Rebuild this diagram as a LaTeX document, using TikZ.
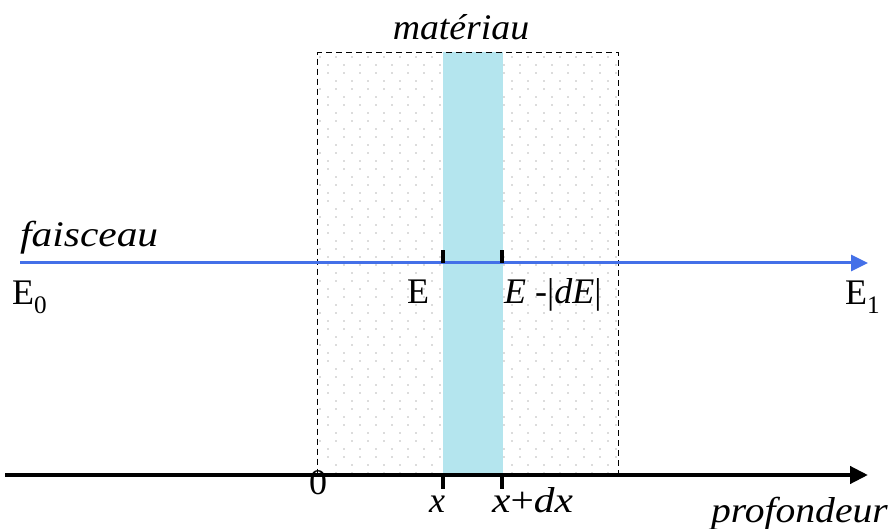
\documentclass[tikz,border=0pt]{standalone}
\usepackage{fontspec}
\setmainfont{Liberation Serif}
\usetikzlibrary{arrows.meta}
\definecolor{beamblue}{RGB}{68,112,232}
\definecolor{bandcyan}{RGB}{180,229,238}
\definecolor{dotgray}{RGB}{185,185,185}
\tikzset{
  lbl/.style={inner sep=0pt, font=\fontsize{36}{40}\selectfont},
  ilbl/.style={inner sep=0pt, font=\fontsize{36}{40}\selectfont\itshape},
  beam/.style={draw=beamblue, line width=3pt, -{Triangle[length=17pt,width=16pt]}},
  axisline/.style={draw=black, line width=4.2pt, -{Triangle[length=18pt,width=17pt]}},
  tick/.style={draw=black, line width=3.6pt},
  matbox/.style={draw=black, line width=1.1pt, dash pattern=on 6pt off 4pt}
}
\begin{document}
\begin{tikzpicture}[x=1pt,y=-1pt]
\useasboundingbox (0,0) rectangle (891,529);
% dotted material
\begin{scope}
\clip (317,52) rectangle (618,474);
\foreach \j in {0,...,26}{
  \pgfmathsetmacro{\off}{mod(\j,2)*8}
  \foreach \i in {0,...,19}{
    \fill[dotgray] (320+\off+\i*16,57+\j*16) circle (0.8);
    \fill[dotgray] (328+\off+\i*16,65+\j*16) circle (0.8);
  }
}
\end{scope}
% slab
\fill[bandcyan] (443,52) rectangle (503,474);
\node[matbox, minimum width=301pt, minimum height=422pt, anchor=north west, inner sep=0pt] (mat) at (317,52) {};
% beam
\coordinate (bs) at (20,263);
\coordinate (be) at (868,263);
\draw[beam] (bs) -- (be);
\coordinate (t1a) at (443,263); \coordinate (t1b) at (443,250);
\coordinate (t2a) at (502,263); \coordinate (t2b) at (502,250);
\draw[tick] (t1a) -- (t1b);
\draw[tick] (t2a) -- (t2b);
% axis
\coordinate (as) at (5,475);
\coordinate (ae) at (868,475);
\draw[axisline] (as) -- (ae);
\coordinate (u1a) at (443,475); \coordinate (u1b) at (443,489);
\coordinate (u2a) at (502,475); \coordinate (u2b) at (502,489);
\draw[tick] (u1a) -- (u1b);
\draw[tick] (u2a) -- (u2b);
% labels
\node[ilbl, anchor=base] (lmat) at (461,40) {\scalebox{1.05}[1]{matériau}};
\node[ilbl, anchor=base west] (lfais) at (20,247) {\scalebox{1.15}[1]{faisceau}};
\node[lbl, anchor=base west] (le0) at (12,305) {E\textsubscript{0}};
\node[lbl, anchor=base west] (le1) at (845,305) {E\textsubscript{1}};
\node[lbl, anchor=base west] (le) at (407,303) {E};
\node[lbl, anchor=base west] (lde) at (504,303) {\textit{E} -|\textit{dE}|};
\node[lbl, anchor=base] (l0) at (318,494) {0};
\node[ilbl, anchor=base] (lx) at (437,512) {x};
\node[lbl, anchor=base west] (lxdx) at (492,512) {\scalebox{1.15}[1]{\textit{x}+\textit{dx}}};
\node[ilbl, anchor=base east] (lprof) at (888,522) {\scalebox{1.1}[1]{profondeur}};
\end{tikzpicture}
\end{document}
